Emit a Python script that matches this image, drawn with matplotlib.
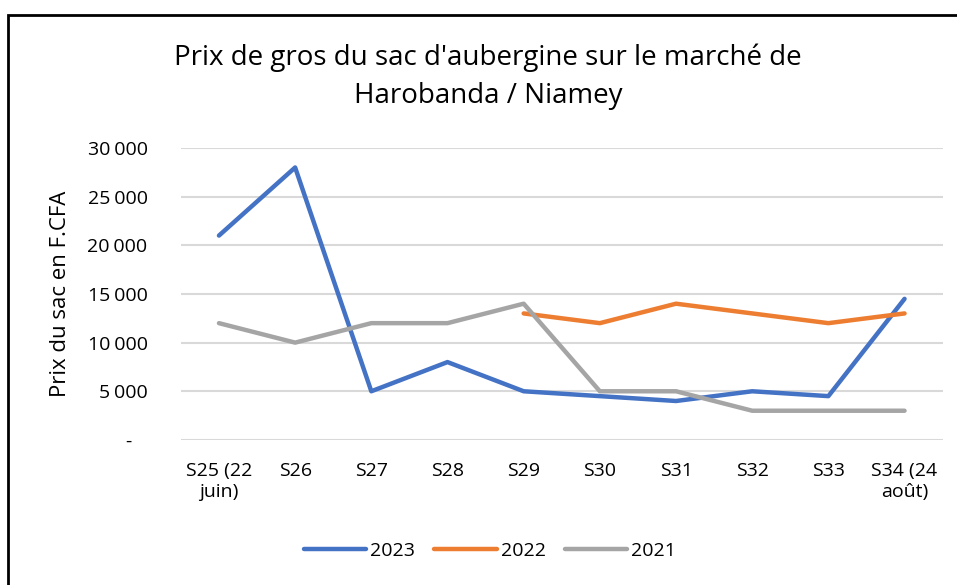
import matplotlib.pyplot as plt
import numpy as np
from matplotlib.patches import Rectangle
from matplotlib.ticker import FuncFormatter

weeks = ["S25 (22\njuin)", "S26", "S27", "S28", "S29", "S30", "S31", "S32", "S33", "S34 (24\naoût)"]
prix_2023 = [21000, 28000, 5000, 8000, 5000, 4500, 4000, 5000, 4500, 14500]
prix_2022 = [np.nan, np.nan, np.nan, np.nan, 13000, 12000, 14000, 13000, 12000, 13000]
prix_2021 = [12000, 10000, 12000, 12000, 14000, 5000, 5000, 3000, 3000, 3000]

plt.rcParams["font.family"] = ["Open Sans", "DejaVu Sans"]


def fmt(v, _pos):
    if v == 0:
        return "-   "
    return f"{int(v):,}".replace(",", "\u202f")


fig = plt.figure(figsize=(9.57, 5.85), dpi=100)
ax = fig.add_axes([0.189, 0.248, 0.796, 0.499])

x = np.arange(len(weeks))
ax.plot(x, prix_2023, color="#4472C4", lw=3.2, solid_capstyle="round", label="2023")
ax.plot(x, prix_2022, color="#ED7D31", lw=3.2, solid_capstyle="round", label="2022")
ax.plot(x, prix_2021, color="#A5A5A5", lw=3.2, solid_capstyle="round", label="2021")

ax.set_xlim(-0.5, len(weeks) - 0.5)
ax.set_ylim(0, 30000)
ax.set_yticks(np.arange(0, 30001, 5000))
ax.yaxis.set_major_formatter(FuncFormatter(fmt))
ax.set_xticks(x)
ax.set_xticklabels(weeks, fontsize=14)
ax.tick_params(axis="y", labelsize=14, length=0, pad=24)
ax.tick_params(axis="x", length=0, pad=16)
ax.grid(axis="y", color="#D9D9D9", lw=1.5)
ax.set_axisbelow(True)
for s in ax.spines.values():
    s.set_visible(False)
ax.set_ylabel("Prix du sac en F.CFA", fontsize=16, labelpad=12)

fig.suptitle("Prix de gros du sac d'aubergine sur le marché de\nHarobanda / Niamey",
             x=0.51, y=0.925, fontsize=20, linespacing=1.45)

fig.legend(loc="center", bbox_to_anchor=(0.512, 0.058), ncol=3, frameon=False,
           fontsize=14, handlelength=3.2, columnspacing=1.0, handletextpad=0.2)

fig.patches.append(Rectangle((8 / 957, -0.1), 1.2, 0.1 + (585 - 15) / 585,
                             transform=fig.transFigure, fill=False,
                             edgecolor="black", lw=2))

fig.savefig("out.png", dpi=100)
